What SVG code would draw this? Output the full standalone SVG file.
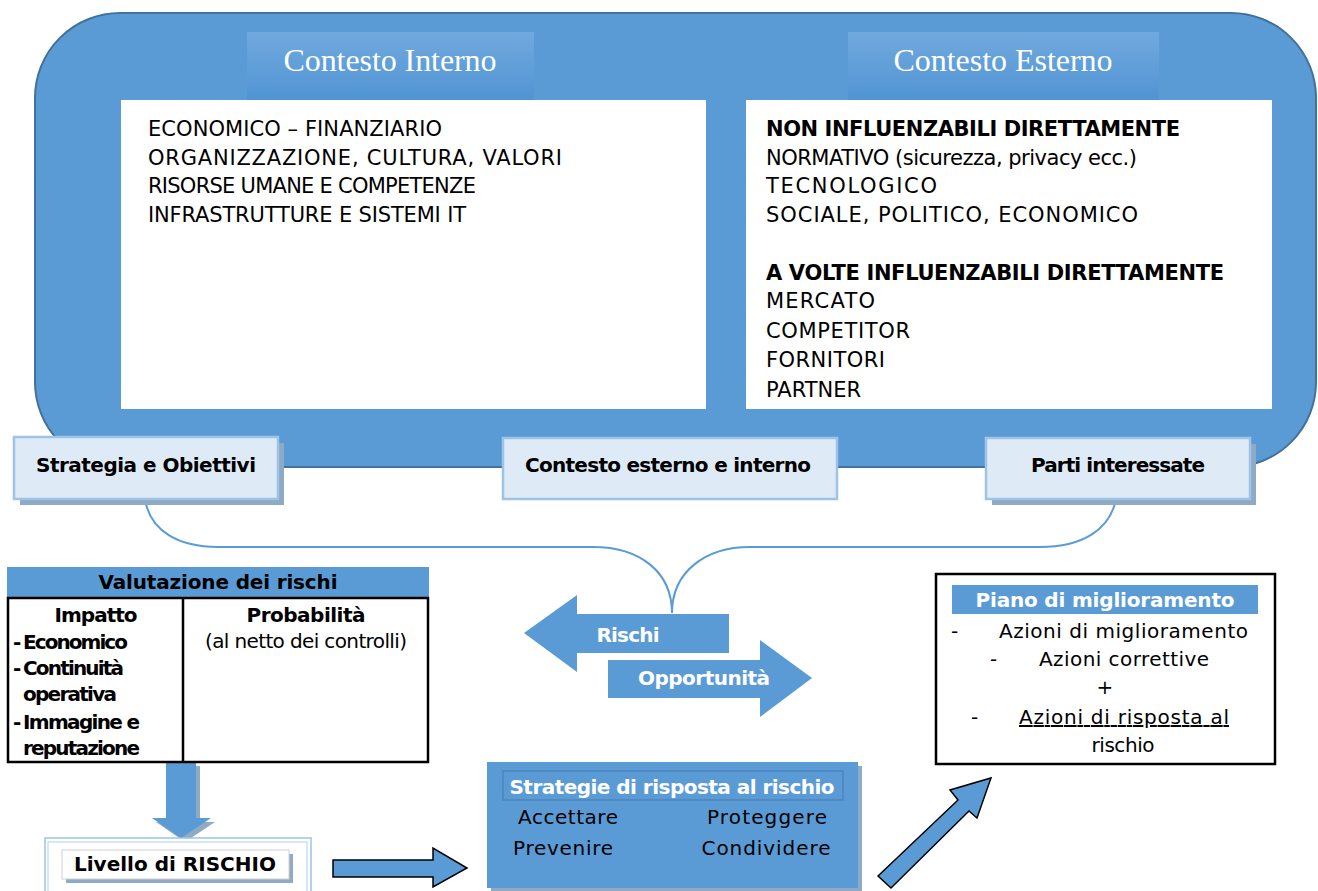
<svg xmlns="http://www.w3.org/2000/svg" width="1318" height="891" viewBox="0 0 1318 891">
<defs>
<style>
.t{font-family:"DejaVu Sans","Liberation Sans",sans-serif;font-size:20px;fill:#000}
.l{font-size:21px}
.b{font-weight:bold}
.w{fill:#fff}
.m{text-anchor:middle}
.ser{font-family:"Liberation Serif","Times New Roman",serif;font-size:32px;fill:#fff;text-anchor:middle}
.lbl{fill:#DEEBF7;stroke:#9DC3E6;stroke-width:2.5}
.shd{fill:#8FAAC4}
.blue{fill:#5B9BD5}
.wbox{fill:#fff}
.blk{fill:none;stroke:#000;stroke-width:2.5}
</style>
<linearGradient id="tg" x1="0" y1="0" x2="0" y2="1">
<stop offset="0" stop-color="#71A9DE"/>
<stop offset="0.6" stop-color="#5E9DD8"/>
<stop offset="1" stop-color="#5094D3"/>
</linearGradient>
</defs>
<rect width="1318" height="891" fill="#fff"/>

<g id="contesto">
<rect x="35" y="13" width="1281" height="454" rx="85" ry="85" fill="#5B9BD5" stroke="#41719C" stroke-width="2"/>
<rect x="247" y="32" width="287" height="68" fill="url(#tg)"/>
<rect x="848" y="32" width="311" height="68" fill="url(#tg)"/>
<text class="ser" x="390" y="71" textLength="213">Contesto Interno</text>
<text class="ser" x="1003" y="71" textLength="219">Contesto Esterno</text>
</g>

<g id="contesto-interno">
<rect class="wbox" x="121" y="100" width="585" height="309"/>
<text class="t l" x="148" y="136" textLength="294">ECONOMICO – FINANZIARIO</text>
<text class="t l" x="148" y="165" textLength="414">ORGANIZZAZIONE, CULTURA, VALORI</text>
<text class="t l" x="148" y="193" textLength="328">RISORSE UMANE E COMPETENZE</text>
<text class="t l" x="148" y="222" textLength="318">INFRASTRUTTURE E SISTEMI IT</text>
</g>

<g id="contesto-esterno">
<rect class="wbox" x="746" y="100" width="526" height="309"/>
<text class="t l b" x="766" y="136" textLength="414">NON INFLUENZABILI DIRETTAMENTE</text>
<text class="t l" x="766" y="165" textLength="371">NORMATIVO (sicurezza, privacy ecc.)</text>
<text class="t l" x="766" y="193" textLength="171">TECNOLOGICO</text>
<text class="t l" x="766" y="222" textLength="372">SOCIALE, POLITICO, ECONOMICO</text>
<text class="t l b" x="766" y="280" textLength="458">A VOLTE INFLUENZABILI DIRETTAMENTE</text>
<text class="t l" x="766" y="308" textLength="109">MERCATO</text>
<text class="t l" x="766" y="338" textLength="144">COMPETITOR</text>
<text class="t l" x="766" y="367" textLength="119">FORNITORI</text>
<text class="t l" x="766" y="397" textLength="95">PARTNER</text>
</g>

<g id="connectors" fill="none">
<path d="M145,499 C150,532 180,547 218,547 L593,547 C640,547 672,572 672,613 C672,572 705,547 750,547 L1040,547 C1082,547 1110,530 1116,499" stroke="#5B9BD5" stroke-width="2"/>
<polygon points="166,762 196,762 196,818 211,818 181,838 152,818 166,818" fill="#8FAAC4" transform="translate(4,4)"/>
<polygon points="166,762 196,762 196,818 211,818 181,838 152,818 166,818" fill="#5B9BD5"/>
<polygon points="333,860 433,860 433,848 467,868 433,887 433,877 333,877" fill="#5B9BD5" stroke="#000" stroke-width="1.5"/>
<polygon points="878,876 958,800 950,790 991,778 977,818 969,811 891,888" fill="#5B9BD5" stroke="#000" stroke-width="1.5" stroke-linejoin="miter"/>
</g>

<g id="strategia">
<rect class="shd" x="20" y="443" width="264" height="62"/>
<rect class="lbl" x="14" y="437" width="264" height="62"/>
<text class="t b m" x="146" y="472" font-size="19" textLength="220">Strategia e Obiettivi</text>
</g>

<g id="contesto-esterno-interno">
<rect class="lbl" x="503" y="438" width="334" height="61"/>
<text class="t b m" x="668" y="472" font-size="19" textLength="286">Contesto esterno e interno</text>
</g>

<g id="parti">
<rect class="shd" x="992" y="444" width="264" height="61"/>
<rect class="lbl" x="986" y="438" width="264" height="61"/>
<text class="t b m" x="1118" y="472" font-size="19" textLength="174">Parti interessate</text>
</g>

<g id="valutazione">
<rect class="blue" x="7" y="567" width="422" height="31"/>
<text class="t b m" x="218" y="589" font-size="19" textLength="239">Valutazione dei rischi</text>
<rect class="wbox" x="8" y="598" width="420" height="164"/>
<rect class="blk" x="8" y="598" width="420" height="164"/>
<line x1="183" y1="598" x2="183" y2="762" stroke="#000" stroke-width="2.5"/>
<text class="t b m" x="96" y="622" font-size="19" textLength="83">Impatto</text>
<text class="t b m" x="306" y="622" font-size="19" textLength="119">Probabilità</text>
<text class="t m" x="306" y="648" font-size="18" textLength="202">(al netto dei controlli)</text>
<text class="t b" x="13" y="649" font-size="17">-</text>
<text class="t b" x="23" y="649" font-size="17" textLength="105">Economico</text>
<text class="t b" x="13" y="675" font-size="17">-</text>
<text class="t b" x="23" y="675" font-size="17" textLength="101">Continuità</text>
<text class="t b" x="23" y="701" font-size="17" textLength="94">operativa</text>
<text class="t b" x="13" y="729" font-size="17">-</text>
<text class="t b" x="23" y="729" font-size="17" textLength="117">Immagine e</text>
<text class="t b" x="23" y="755" font-size="17" textLength="117">reputazione</text>
</g>

<g id="livello">
<rect x="45" y="838" width="266" height="56" fill="#fff" stroke="#9DC3E6" stroke-width="1.5"/>
<rect x="48" y="842" width="259" height="50" fill="none" stroke="#BDD7EE" stroke-width="1.2"/>
<rect x="66" y="854" width="227" height="29" fill="#8FAAC4"/>
<rect x="62" y="850" width="227" height="29" fill="#fff" stroke="#D0D0D0" stroke-width="1"/>
<text class="t b m" x="175" y="871" font-size="19" textLength="202">Livello di RISCHIO</text>
</g>

<g id="rischi">
<polygon points="729,614 577,614 577,595 524,633 577,672 577,653 729,653" fill="#5B9BD5"/>
<text class="t b w m" x="628" y="642" font-size="20" textLength="63">Rischi</text>
</g>

<g id="opportunita">
<polygon points="608,660 760,660 760,640 812,678 760,717 760,698 608,698" fill="#5B9BD5"/>
<text class="t b w m" x="704" y="685" font-size="20" textLength="132">Opportunità</text>
</g>

<g id="strategie-risposta">
<rect class="shd" x="491" y="766" width="371" height="126"/>
<rect class="blue" x="487" y="762" width="371" height="126"/>
<rect x="503" y="771" width="340" height="29" fill="#5B9BD5" stroke="#4A7FB5" stroke-width="1.2"/>
<text class="t b w m" x="672" y="794" font-size="19" textLength="325">Strategie di risposta al rischio</text>
<text class="t m" x="568" y="824" textLength="100">Accettare</text>
<text class="t m" x="767" y="824" textLength="120">Proteggere</text>
<text class="t m" x="563" y="855" textLength="100">Prevenire</text>
<text class="t m" x="766" y="855" textLength="129">Condividere</text>
</g>

<g id="piano">
<rect class="wbox" x="936" y="574" width="339" height="190"/>
<rect class="blk" x="936" y="574" width="339" height="190" stroke-width="2"/>
<rect class="blue" x="952" y="585" width="306" height="29"/>
<text class="t b w m" x="1105" y="607" font-size="19" textLength="259">Piano di miglioramento</text>
<text class="t" x="951" y="638">-</text>
<text class="t" x="999" y="638" textLength="249">Azioni di miglioramento</text>
<text class="t" x="990" y="666">-</text>
<text class="t" x="1039" y="666" textLength="170">Azioni correttive</text>
<text class="t m" x="1105" y="694">+</text>
<text class="t" x="971" y="724">-</text>
<text class="t" x="1019" y="724" textLength="210" text-decoration="underline">Azioni di risposta al</text>
<text class="t m" x="1123" y="752" textLength="63">rischio</text>
</g>
</svg>
